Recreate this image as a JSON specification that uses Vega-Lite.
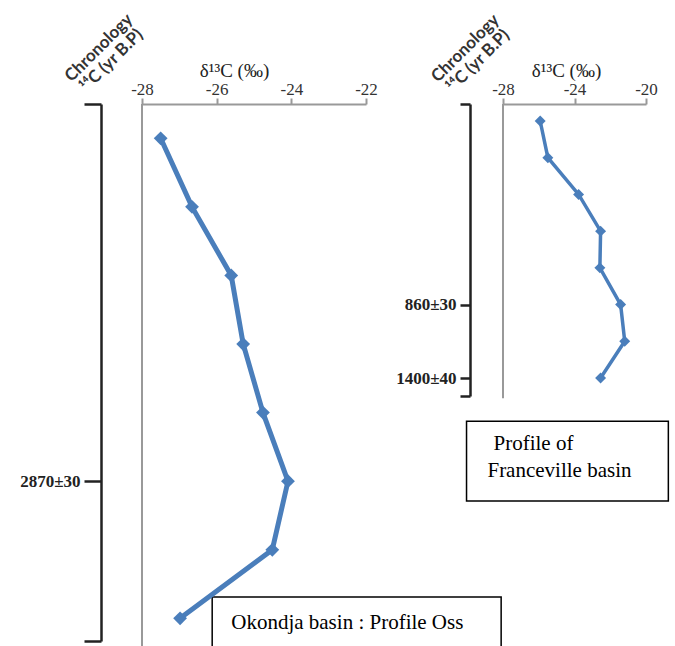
{
  "$schema": "https://vega.github.io/schema/vega-lite/v6.json",
  "padding": {"left": 19, "top": 10, "right": 0, "bottom": 0},
  "bounds": "flush",
  "spacing": 137,
  "background": "white",
  "config": {"view": {"stroke": null}, "axis": {"grid": false}},
  "datasets": {
    "okondja": [
      {"profile": "Okondja basin : Profile Oss", "sample": 1, "d13C": -27.5},
      {"profile": "Okondja basin : Profile Oss", "sample": 2, "d13C": -26.66},
      {"profile": "Okondja basin : Profile Oss", "sample": 3, "d13C": -25.61},
      {"profile": "Okondja basin : Profile Oss", "sample": 4, "d13C": -25.29},
      {"profile": "Okondja basin : Profile Oss", "sample": 5, "d13C": -24.76},
      {"profile": "Okondja basin : Profile Oss", "sample": 6, "d13C": -24.09},
      {"profile": "Okondja basin : Profile Oss", "sample": 7, "d13C": -24.51},
      {"profile": "Okondja basin : Profile Oss", "sample": 8, "d13C": -26.98}
    ],
    "franceville": [
      {"profile": "Profile of Franceville basin", "sample": 1, "d13C": -25.92},
      {"profile": "Profile of Franceville basin", "sample": 2, "d13C": -25.49},
      {"profile": "Profile of Franceville basin", "sample": 3, "d13C": -23.77},
      {"profile": "Profile of Franceville basin", "sample": 4, "d13C": -22.54},
      {"profile": "Profile of Franceville basin", "sample": 5, "d13C": -22.58},
      {"profile": "Profile of Franceville basin", "sample": 6, "d13C": -21.42},
      {"profile": "Profile of Franceville basin", "sample": 7, "d13C": -21.19},
      {"profile": "Profile of Franceville basin", "sample": 8, "d13C": -22.54}
    ]
  },
  "hconcat": [
    {
      "width": 224,
      "height": 537,
      "layer": [
        {
          "data": {"values": [{}]},
          "mark": {"type": "rule", "color": "#999999", "strokeWidth": 2},
          "encoding": {
            "x": {"datum": -28, "type": "quantitative"},
            "y": {"datum": 0.5, "type": "quantitative"},
            "y2": {"datum": 8.45}
          }
        },
        {
          "data": {"values": [{}]},
          "mark": {"type": "rect", "fill": "white", "stroke": "black", "strokeWidth": 1.5},
          "encoding": {
            "x": {"datum": -26.12, "type": "quantitative"},
            "x2": {"datum": -18.38},
            "y": {"datum": 7.69, "type": "quantitative"},
            "y2": {"datum": 9.3}
          }
        },
        {
          "data": {"values": [{}]},
          "mark": {"type": "text", "text": "Okondja basin : Profile Oss", "align": "left", "baseline": "middle", "font": "Liberation Serif", "fontSize": 21, "color": "black"},
          "encoding": {
            "x": {"datum": -25.61, "type": "quantitative"},
            "y": {"datum": 8.07, "type": "quantitative"}
          }
        },
        {
          "data": {"name": "okondja"},
          "mark": {"type": "line", "color": "#4a7ebb", "strokeWidth": 5, "point": {"shape": "diamond", "size": 190, "filled": true, "color": "#4a7ebb", "opacity": 1}},
          "encoding": {
            "x": {
              "field": "d13C", "type": "quantitative",
              "scale": {"domain": [-28, -22], "nice": false, "zero": false},
              "axis": {
                "orient": "top", "values": [-28, -26, -24, -22], "title": "δ¹³C (‰)",
                "labelExpr": "'-' + abs(datum.value)",
                "domainColor": "#999999", "domainWidth": 2, "tickColor": "#999999", "tickWidth": 2, "tickSize": 6,
                "labelFont": "Liberation Serif", "labelFontSize": 17, "labelColor": "#333333", "labelPadding": 0, "labelFlush": false,
                "titleFont": "Liberation Serif", "titleFontSize": 19, "titleFontWeight": "normal", "titleColor": "#222222", "titlePadding": 0, "titleX": 92
              }
            },
            "y": {
              "field": "sample", "type": "quantitative",
              "scale": {"domain": [0.5, 8.33], "reverse": true, "nice": false, "zero": false},
              "axis": {
                "orient": "left", "offset": 41, "values": [0.5, 6, 8.33],
                "labelExpr": "datum.value > 5 && datum.value < 7 ? '2870±30' : ''",
                "domainColor": "#222222", "domainWidth": 2.5, "tickColor": "#222222", "tickWidth": 2.5, "tickSize": 17,
                "labelFont": "Liberation Serif", "labelFontWeight": "bold", "labelFontSize": 17, "labelColor": "#222222", "labelPadding": 4, "labelFlush": false, "labelOverlap": false,
                "title": ["Chronology", "¹⁴C (yr B.P)"], "titleFont": "Lato", "titleFontWeight": "bold", "titleFontSize": 17, "titleLineHeight": 18, "titleColor": "#333333",
                "titleAngle": -45, "titleAlign": "center", "titleBaseline": "middle", "titleX": -2.5, "titleY": -56.5
              }
            },
            "order": {"field": "sample"}
          }
        }
      ]
    },
    {
      "width": 143,
      "height": 292,
      "layer": [
        {
          "data": {"values": [{}]},
          "mark": {"type": "rule", "color": "#999999", "strokeWidth": 2},
          "encoding": {
            "x": {"datum": -28, "type": "quantitative"},
            "y": {"datum": 0.537, "type": "quantitative"},
            "y2": {"datum": 8.55}
          }
        },
        {
          "data": {"values": [{}]},
          "mark": {"type": "rect", "fill": "white", "stroke": "black", "strokeWidth": 1.5},
          "encoding": {
            "x": {"datum": -30.04, "type": "quantitative"},
            "x2": {"datum": -18.75},
            "y": {"datum": 9.175, "type": "quantitative"},
            "y2": {"datum": 11.35}
          }
        },
        {
          "data": {"values": [{}]},
          "mark": {"type": "text", "text": "Profile of", "align": "left", "baseline": "middle", "font": "Liberation Serif", "fontSize": 21, "color": "black"},
          "encoding": {
            "x": {"datum": -28.53, "type": "quantitative"},
            "y": {"datum": 9.8, "type": "quantitative"}
          }
        },
        {
          "data": {"values": [{}]},
          "mark": {"type": "text", "text": "Franceville basin", "align": "left", "baseline": "middle", "font": "Liberation Serif", "fontSize": 21, "color": "black"},
          "encoding": {
            "x": {"datum": -28.87, "type": "quantitative"},
            "y": {"datum": 10.54, "type": "quantitative"}
          }
        },
        {
          "data": {"name": "franceville"},
          "mark": {"type": "line", "color": "#4a7ebb", "strokeWidth": 3.5, "point": {"shape": "diamond", "size": 120, "filled": true, "color": "#4a7ebb", "opacity": 1}},
          "encoding": {
            "x": {
              "field": "d13C", "type": "quantitative",
              "scale": {"domain": [-28, -20], "nice": false, "zero": false},
              "axis": {
                "orient": "top", "values": [-28, -26, -24, -22, -20], "title": "δ¹³C (‰)",
                "labelExpr": "'-' + abs(datum.value)",
                "domainColor": "#999999", "domainWidth": 2, "tickColor": "#999999", "tickWidth": 2, "tickSize": 6,
                "labelFont": "Liberation Serif", "labelFontSize": 17, "labelColor": "#333333", "labelPadding": 0, "labelFlush": false, "labelOverlap": false,
                "titleFont": "Liberation Serif", "titleFontSize": 19, "titleFontWeight": "normal", "titleColor": "#222222", "titlePadding": 0, "titleX": 63
              }
            },
            "y": {
              "field": "sample", "type": "quantitative",
              "scale": {"domain": [0.537, 8.49], "reverse": true, "nice": false, "zero": false},
              "axis": {
                "orient": "left", "offset": 33, "values": [0.537, 6, 8, 8.49],
                "labelExpr": "datum.value > 5 && datum.value < 7 ? '860±30' : (datum.value > 7.9 && datum.value < 8.1 ? '1400±40' : '')",
                "domainColor": "#222222", "domainWidth": 2.5, "tickColor": "#222222", "tickWidth": 2.5, "tickSize": 10,
                "labelFont": "Liberation Serif", "labelFontWeight": "bold", "labelFontSize": 17, "labelColor": "#222222", "labelPadding": 4, "labelFlush": false, "labelOverlap": false,
                "title": ["Chronology", "¹⁴C (yr B.P)"], "titleFont": "Lato", "titleFontWeight": "bold", "titleFontSize": 17, "titleLineHeight": 18, "titleColor": "#333333",
                "titleAngle": -45, "titleAlign": "center", "titleBaseline": "middle", "titleX": -5, "titleY": -56
              }
            },
            "order": {"field": "sample"}
          }
        }
      ]
    }
  ]
}
